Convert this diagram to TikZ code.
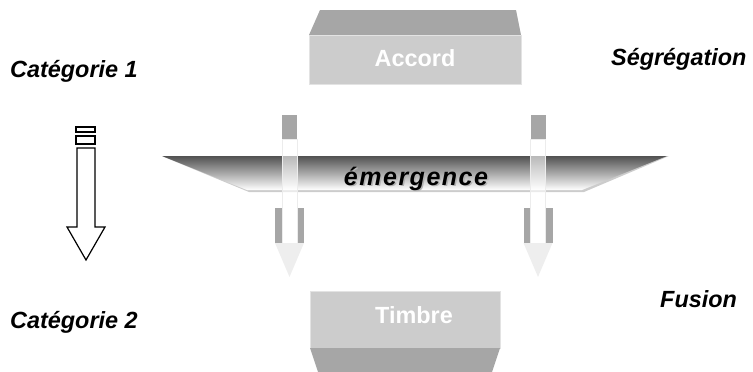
\documentclass[tikz,border=0pt]{standalone}
\usepackage{fontspec}
\setmainfont{Liberation Sans}
\newfontfamily\emergfont[LetterSpace=6]{Liberation Sans}
\usetikzlibrary{arrows.meta, positioning}

\begin{document}
\begin{tikzpicture}[x=1pt, y=-1pt,
    % faces des blocs et flèches grises
    face/.style={fill=gray!40, draw=gray!22, line width=0.8pt},
    dessus/.style={fill=gray!70},
    tige/.style={fill=white, fill opacity=0.6, draw=gray!15, line width=0.8pt},
    aile/.style={fill=gray!70},
    pointe/.style={fill=gray!13},
    % textes
    etiquette/.style={font=\fontsize{23.4}{28}\selectfont\bfseries\itshape, inner sep=0pt, anchor=base west},
    titrebloc/.style={font=\fontsize{23.4}{28}\selectfont\bfseries, text=white, inner sep=0pt, anchor=base}]

    \useasboundingbox (0,0) rectangle (753,372);

    % bloc du haut
    \fill[dessus] (320,10) -- (516,10) -- (521,35) -- (309,35) -- cycle;
    \draw[face] (309,35) rectangle (521,84);
    \node[titrebloc] (accord) at (415,66) {Accord};

    % bloc du bas
    \draw[face] (310,291) rectangle (500,348);
    \fill[dessus] (310,348) -- (500,348) -- (492,372) -- (318,372) -- cycle;
    \node[titrebloc] (timbre) at (414,323) {Timbre};

    % barre "émergence"
    \fill[gray!40] (164,157) -- (669,156) -- (584,192) -- (249,192) -- cycle;
    \shade[top color=black!68, middle color=black!18, bottom color=white]
        (162,156) -- (667,156) -- (582,190) -- (247,190) -- cycle;
    \node[font=\fontsize{25}{30}\selectfont\emergfont\bfseries\itshape, text=gray!60, inner sep=0pt, anchor=base]
        (emergombre) at (417.5,186.5) {émergence};
    \node[font=\fontsize{25}{30}\selectfont\emergfont\bfseries\itshape, inner sep=0pt, anchor=base]
        (emerg) at (416,185) {émergence};

    % flèches verticales à travers la barre
    \foreach \cx in {289.5,538} {
        \fill[aile] (\cx-7.5,115) rectangle (\cx+7.5,139);
        \fill[aile] (\cx-14.5,208) rectangle (\cx-7.5,243);
        \fill[aile] (\cx+7.5,208) rectangle (\cx+14.5,243);
        \draw[tige] (\cx-7.5,139) rectangle (\cx+7.5,243);
        \fill[pointe] (\cx-14.5,243) -- (\cx+14.5,243) -- (\cx,277) -- cycle;
    }

    % flèche creuse à gauche
    \draw[line width=1.2pt] (76,127) rectangle (95,132);
    \draw[line width=1.2pt] (76,136) rectangle (95,144);
    \draw[line width=1.2pt, line join=miter]
        (77,148) -- (77,227) -- (67,227) -- (86,260) -- (105,227) -- (95,227) -- (95,148) -- cycle;

    % catégories
    \node[etiquette] (cat1) at (10,77) {Catégorie 1};
    \node[etiquette] (cat2) at (10,328) {Catégorie 2};
    \node[etiquette] (segr) at (611,65) {Ségrégation};
    \node[etiquette] (fusion) at (660,307) {Fusion};
\end{tikzpicture}
\end{document}
